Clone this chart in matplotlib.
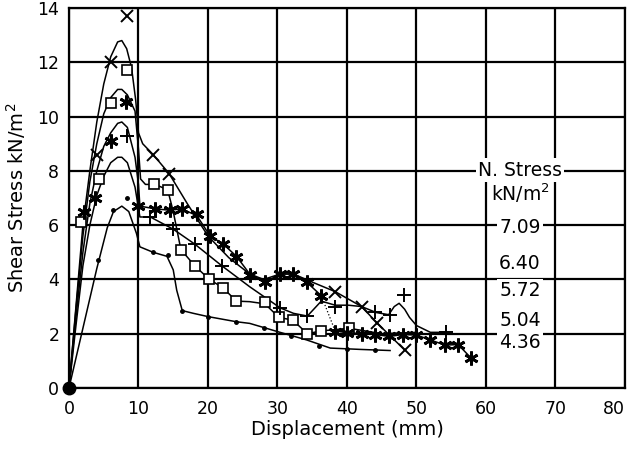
import matplotlib.pyplot as plt

plt.rcParams['font.family'] = 'DejaVu Sans'

# normal stress labels (kN/m2)
stress_labels = ['7.09', '6.40', '5.72', '5.04', '4.36']
label_y = [5.9, 4.57, 3.6, 2.5, 1.66]

# fitted curves, displacement (mm) vs shear stress (kN/m2)
a_x = [0, 1, 2, 3, 4, 5, 6, 7, 7.6, 8.3, 9, 9.6, 10, 10.6, 12.1, 14.4, 17, 20, 23, 26, 28,
       30.4, 32.3, 35, 38.3, 42.1, 44.3, 48.3]
a_y = [0, 3.0, 6.0, 8.0, 9.8, 11.2, 12.2, 12.75, 12.8, 12.5, 11.8, 10.6, 9.4, 9.0, 8.6, 7.9,
       6.8, 5.6, 4.8, 4.2, 4.0, 4.2, 4.2, 3.9, 3.55, 3.0, 2.4, 1.4]
b_x = [0, 1, 2, 3, 4, 5, 6, 7, 7.6, 8.4, 9.5, 10, 10.3, 11, 12.4, 14.2, 15, 16.1, 18.1, 20.2,
       22.1, 24.1, 26, 28.2, 30.2, 32.2, 34.3, 36.2, 40.3, 45, 50]
b_y = [0, 2.9, 5.6, 7.6, 9.0, 10.1, 10.7, 11.0, 11.0, 10.8, 10.2, 8.8, 7.7, 7.5, 7.5, 7.3, 6.5,
       5.1, 4.5, 4.0, 3.7, 3.2, 3.18, 3.1, 2.6, 2.5, 2.0, 2.1, 2.2, 2.0, 2.05]
c_x = [0, 1, 2, 3, 4, 5, 6, 7, 7.6, 8.4, 9.5, 10, 10.2, 12.4, 14.5, 16.2, 18.4, 20.3, 22.2,
       24.1, 26, 28.2, 30.4, 32.3, 34.2, 36.3, 38.3, 40, 42.1, 44, 46.1, 48.1, 50, 52, 54.1,
       56, 57.9]
c_y = [0, 2.6, 5.0, 6.8, 8.0, 8.9, 9.4, 9.75, 9.8, 9.6, 8.5, 7.5, 6.7, 6.6, 6.55, 6.6, 6.35,
       5.6, 5.3, 4.85, 4.2, 3.9, 4.2, 4.2, 3.9, 3.4, 2.1, 2.04, 2.0, 1.97, 1.9, 1.97, 1.95,
       1.77, 1.58, 1.6, 1.09]
d_x = [0, 1, 2, 3, 4, 5, 6, 7, 7.6, 8.4, 9.5, 10.2, 11.7, 15, 18.1, 22, 26, 30.4, 32.3, 34.3,
       36.3, 38.3, 40.2, 42.1, 44.2, 46, 46.8, 47.5, 48.3, 49, 50, 52, 54.3]
d_y = [0, 2.3, 4.5, 6.0, 7.1, 7.8, 8.3, 8.5, 8.5, 8.3, 7.4, 6.3, 6.3, 5.85, 5.3, 4.5, 3.73,
       2.95, 2.75, 2.65, 3.2, 3.05, 3.05, 3.0, 2.78, 2.7, 3.0, 3.12, 2.9, 2.6, 2.3, 2.05, 2.05]
e_x = [0, 2, 4, 5.5, 6.4, 7.6, 8.6, 9.7, 10.2, 12.1, 14.1, 15, 15.5, 16.3, 17.9, 20, 24.1, 26,
       30.1, 34.2, 37.6, 42, 46.2]
e_y = [0, 2.2, 4.4, 5.9, 6.5, 6.7, 6.5, 5.7, 5.2, 5.0, 4.85, 4.35, 3.6, 2.85, 2.75, 2.63,
       2.44, 2.38, 2.07, 1.77, 1.47, 1.42, 1.38]

# measured points
a_mx = [4.0, 6.1, 8.3, 12.1, 14.4, 38.3, 42.1, 44.3, 48.3]
a_my = [8.6, 12.0, 13.7, 8.6, 7.9, 3.55, 3.0, 2.4, 1.4]
b_mx = [1.7, 4.3, 6.0, 8.3, 12.3, 14.2, 16.1, 18.1, 20.2, 22.1, 24.1, 28.2, 30.2, 32.2,
        34.3, 36.2, 40.3]
b_my = [6.1, 7.7, 10.5, 11.7, 7.5, 7.3, 5.1, 4.5, 4.0, 3.7, 3.2, 3.15, 2.6, 2.5, 2.0, 2.1, 2.2]
c_mx = [2.1, 3.7, 6.1, 8.2, 10.0, 12.4, 14.5, 16.2, 18.4, 20.3, 22.2, 24.1, 26.0, 28.2, 30.4,
        32.3, 34.2, 36.3, 38.3, 40.0, 42.1, 44.0, 46.1, 48.1, 50.0, 52.0, 54.1, 56.0, 57.9]
c_my = [6.5, 7.0, 9.1, 10.55, 6.7, 6.6, 6.55, 6.6, 6.4, 5.6, 5.3, 4.84, 4.16, 3.9, 4.2, 4.2,
        3.9, 3.4, 2.07, 2.04, 2.0, 1.97, 1.9, 1.97, 1.95, 1.77, 1.58, 1.6, 1.09]
d_mx = [8.3, 11.7, 15.0, 18.1, 22.0, 30.4, 34.3, 38.3, 44.0, 46.2, 48.2, 54.3]
d_my = [9.3, 6.3, 5.84, 5.3, 4.5, 2.93, 2.65, 3.0, 2.8, 2.69, 3.43, 2.07]
e_mx = [4.2, 6.4, 8.3, 12.1, 14.3, 16.3, 20.0, 24.1, 28.0, 32.0, 36.0, 40.0, 44.0]
e_my = [4.7, 6.55, 7.0, 5.0, 4.9, 2.85, 2.63, 2.44, 2.2, 1.9, 1.55, 1.45, 1.4]

fig = plt.figure(figsize=(6.29, 4.49), dpi=100)
ax = fig.add_axes([0.1097, 0.1359, 0.8839, 0.8463])

lw = 1.1
ax.plot(a_x, a_y, color='k', lw=lw, zorder=3)
ax.plot(b_x, b_y, color='k', lw=lw, zorder=3)
# drop between 36 and 38 mm is drawn dotted
ax.plot(c_x[:26], c_y[:26], color='k', lw=lw, zorder=3)
ax.plot(c_x[25:27], c_y[25:27], color='k', lw=0.9, ls=':', zorder=3)
ax.plot(c_x[26:], c_y[26:], color='k', lw=lw, zorder=3)
ax.plot(d_x, d_y, color='k', lw=lw, zorder=3)
ax.plot(e_x, e_y, color='k', lw=lw, zorder=3)

ax.plot(a_mx, a_my, ls='none', marker='x', ms=8, mew=1.4, color='k', zorder=4)
ax.plot(b_mx, b_my, ls='none', marker='s', ms=7.5, mew=1.2, mfc='white', mec='k', zorder=4)
ax.plot(c_mx, c_my, ls='none', marker=(6, 2, 0), ms=10, mew=2.0, color='k', zorder=4)
ax.plot(d_mx, d_my, ls='none', marker='+', ms=10, mew=1.4, color='k', zorder=4)
ax.plot(e_mx, e_my, ls='none', marker='o', ms=2.5, color='k', zorder=4)
ax.plot([0], [0], ls='none', marker='o', ms=9, color='k', zorder=5, clip_on=False)

ax.set_xlim(0, 80)
ax.set_ylim(0, 14)
ax.set_xticks(range(0, 81, 10))
ax.set_yticks(range(0, 15, 2))
ax.grid(True, color='k', lw=1.6)
ax.set_axisbelow(True)
for s in ax.spines.values():
    s.set_linewidth(1.6)
ax.tick_params(axis='both', length=0, labelsize=12.5)
ax.tick_params(axis='x', pad=9)
ax.tick_params(axis='y', pad=7)
# last x label sits inside the figure edge
ax.get_xticklabels()[-1].set_horizontalalignment('right')

ax.set_xlabel('Displacement (mm)', fontsize=14, labelpad=1)
ax.set_ylabel('Shear Stress kN/m$^2$', fontsize=14, labelpad=7)

box = dict(facecolor='white', edgecolor='none', pad=1.5)
ax.text(64.9, 8.03, 'N. Stress', ha='center', va='center', fontsize=13.5, bbox=box, zorder=6)
ax.text(64.9, 7.18, 'kN/m$^2$', ha='center', va='center', fontsize=13.5, bbox=box, zorder=6)
for lab, yy in zip(stress_labels, label_y):
    ax.text(64.9, yy, lab, ha='center', va='center', fontsize=13.5, bbox=box, zorder=6)

fig.savefig('out.png', dpi=100)
